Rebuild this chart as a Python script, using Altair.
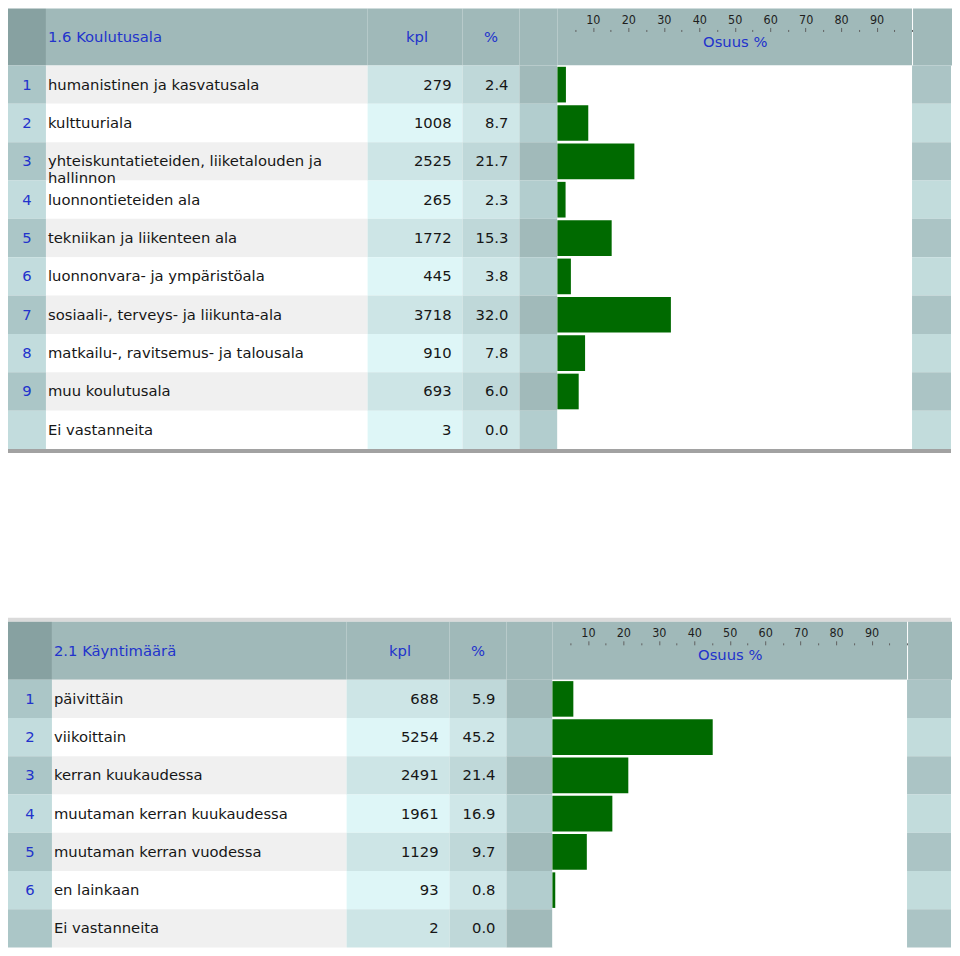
import altair as alt
import pandas as pd

# ---------------- data ----------------
TITLE_1 = "1.6 Koulutusala"
ROWNUM_1 = ["1", "2", "3", "4", "5", "6", "7", "8", "9", ""]
LABELS_1 = [
    "humanistinen ja kasvatusala",
    "kulttuuriala",
    "yhteiskuntatieteiden, liiketalouden ja\nhallinnon",
    "luonnontieteiden ala",
    "tekniikan ja liikenteen ala",
    "luonnonvara- ja ympäristöala",
    "sosiaali-, terveys- ja liikunta-ala",
    "matkailu-, ravitsemus- ja talousala",
    "muu koulutusala",
    "Ei vastanneita",
]
KPL_1 = [279, 1008, 2525, 265, 1772, 445, 3718, 910, 693, 3]
PCT_1 = [2.4, 8.7, 21.7, 2.3, 15.3, 3.8, 32.0, 7.8, 6.0, 0.0]

TITLE_2 = "2.1 Käyntimäärä"
ROWNUM_2 = ["1", "2", "3", "4", "5", "6", ""]
LABELS_2 = [
    "päivittäin",
    "viikoittain",
    "kerran kuukaudessa",
    "muutaman kerran kuukaudessa",
    "muutaman kerran vuodessa",
    "en lainkaan",
    "Ei vastanneita",
]
KPL_2 = [688, 5254, 2491, 1961, 1129, 93, 2]
PCT_2 = [5.9, 45.2, 21.4, 16.9, 9.7, 0.8, 0.0]

HEAD_KPL = "kpl"
HEAD_PCT = "%"
AXIS_TITLE = "Osuus %"
AXIS_TICKS = [5, 10, 15, 20, 25, 30, 35, 40, 45, 50, 55, 60, 65, 70, 75, 80, 85, 90, 95, 100]
AXIS_DOMAIN = [0, 100]

# ---------------- style ----------------
FONT = "DejaVu Sans"
FS = 14.8
BLUE = "#2233cc"
INK = "#161616"
GREEN = "#006a00"
HEAD = "#a0b9b9"
HEAD_DARK = "#87a1a1"
FRAME = "#a2a2a2"
FRAME_LIGHT = "#dadada"
PALETTE = {
    "num": ("#abc6c7", "#c2dcdd"),
    "label": ("#f0f0f0", "#ffffff"),
    "kpl": ("#cde5e6", "#def6f7"),
    "pct": ("#bfd8d9", "#cfe7e8"),
    "gap": ("#a1baba", "#b2cdce"),
    "bar": ("#ffffff", "#ffffff"),
    "right": ("#abc4c5", "#c2dcdc"),
}
WIDTHS_1 = [38, 322, 95, 57, 38, 355, 39]
WIDTHS_2 = [44, 295, 103, 57, 46, 355, 44]
TOTAL_W = sum(WIDTHS_1)
BORDER = 4

ONE = pd.DataFrame({"k": [0]})


def block_layer(w, h, fill):
    return alt.Chart(ONE).mark_rect(color=fill, strokeWidth=0).encode(
        x=alt.value(0), x2=alt.value(w), y=alt.value(0), y2=alt.value(h)
    )


def block(w, h, fill):
    return block_layer(w, h, fill).properties(width=w, height=h)


def header_text(text, x, align, h):
    return alt.Chart(pd.DataFrame({"t": [text]})).mark_text(
        font=FONT, fontSize=FS, color=BLUE, align=align, baseline="middle"
    ).encode(text="t:N", x=alt.value(x), y=alt.value(h / 2 + 1.5))


def axis_cell(w, h):
    df = pd.DataFrame({"lo": [AXIS_DOMAIN[0]], "hi": [AXIS_DOMAIN[1]]})
    major = "datum.value % 10 === 0 && datum.value < 100"
    return alt.Chart(df).mark_rect(color=HEAD, strokeWidth=0).encode(
        x=alt.X(
            "lo:Q",
            scale=alt.Scale(domain=AXIS_DOMAIN, nice=False, zero=False),
            axis=alt.Axis(
                orient="top", values=AXIS_TICKS, offset=-23, domain=False, grid=False,
                zindex=1,
                labelExpr=f"{major} ? datum.label : ''",
                labelFont="DejaVu Sans Condensed", labelFontSize=12.5, labelColor="#1e1e1e",
                labelPadding=1, labelOverlap=False, labelFlush=False,
                tickColor="#606060", tickWidth=1,
                tickSize={"condition": {"test": major, "value": 4}, "value": 2},
                title=AXIS_TITLE, titleY=11, titleBaseline="middle", titleFont=FONT,
                titleFontSize=FS, titleFontWeight="normal", titleColor=BLUE,
            ),
        ),
        x2="hi:Q",
        y=alt.value(0),
        y2=alt.value(h),
    ).properties(width=w, height=h)


def header_row(title, widths, h):
    wn, wl, wk, wp, wg, wb, wr = widths
    cells = [
        block(wn, h, HEAD_DARK),
        alt.layer(block_layer(wl, h, HEAD), header_text(title, 2, "left", h)).properties(width=wl, height=h),
        alt.layer(block_layer(wk, h, HEAD), header_text(HEAD_KPL, wk / 2 + 2, "center", h)).properties(width=wk, height=h),
        alt.layer(block_layer(wp, h, HEAD), header_text(HEAD_PCT, wp / 2, "center", h)).properties(width=wp, height=h),
        block(wg, h, HEAD),
        axis_cell(wb, h),
        block(wr, h, HEAD),
    ]
    return alt.hconcat(*cells, spacing=0)


def body_row(df, widths, h):
    wn, wl, wk, wp, wg, wb, wr = widths
    y = alt.Y("idx:O", axis=None, scale=alt.Scale(paddingInner=0, paddingOuter=0))

    def bg(key, w):
        odd, even = PALETTE[key]
        return alt.Chart(df).mark_rect(strokeWidth=0).encode(
            y=y, x=alt.value(0), x2=alt.value(w),
            color=alt.condition(alt.datum.idx % 2 == 0, alt.value(odd), alt.value(even)),
        )

    def txt(text, x, align, color):
        return alt.Chart(df).mark_text(
            font=FONT, fontSize=FS, color=color, align=align, baseline="middle",
            lineBreak="\n", lineHeight=17, dy=1,
        ).encode(y=y, x=alt.value(x), text=text)

    bars = alt.Chart(df).mark_bar(color=GREEN, height={"band": 0.93}).encode(
        y=y,
        x=alt.X("pct:Q", scale=alt.Scale(domain=AXIS_DOMAIN, nice=False), axis=None),
    )

    cells = [
        alt.layer(bg("num", wn), txt("num:N", wn / 2, "center", BLUE)).properties(width=wn, height=h),
        alt.layer(bg("label", wl), txt("label:N", 2, "left", INK)).properties(width=wl, height=h),
        alt.layer(bg("kpl", wk), txt(alt.Text("kpl:Q", format="d"), wk - 11, "right", INK)).properties(width=wk, height=h),
        alt.layer(bg("pct", wp), txt(alt.Text("pct:Q", format=".1f"), wp - 11, "right", INK)).properties(width=wp, height=h),
        bg("gap", wg).properties(width=wg, height=h),
        alt.layer(bg("bar", wb), bars).properties(width=wb, height=h),
        bg("right", wr).properties(width=wr, height=h),
    ]
    return alt.hconcat(*cells, spacing=0)


df1 = pd.DataFrame({"idx": range(len(LABELS_1)), "num": ROWNUM_1, "label": LABELS_1, "kpl": KPL_1, "pct": PCT_1})
df2 = pd.DataFrame({"idx": range(len(LABELS_2)), "num": ROWNUM_2, "label": LABELS_2, "kpl": KPL_2, "pct": PCT_2})

table1 = alt.vconcat(
    header_row(TITLE_1, WIDTHS_1, 57),
    body_row(df1, WIDTHS_1, 384),
    block(TOTAL_W, BORDER, FRAME),
    spacing=0,
)
gap = block(TOTAL_W, 165, "#ffffff")
table2 = alt.vconcat(
    block(TOTAL_W, BORDER, FRAME_LIGHT),
    header_row(TITLE_2, WIDTHS_2, 58),
    body_row(df2, WIDTHS_2, 268),
    spacing=0,
)

chart = (
    alt.vconcat(table1, gap, table2, spacing=0)
    .properties(padding=0)
    .configure_view(strokeWidth=0)
    .configure_concat(spacing=0)
)

chart.save("out.html", embed_options={"renderer": "svg", "actions": False})
